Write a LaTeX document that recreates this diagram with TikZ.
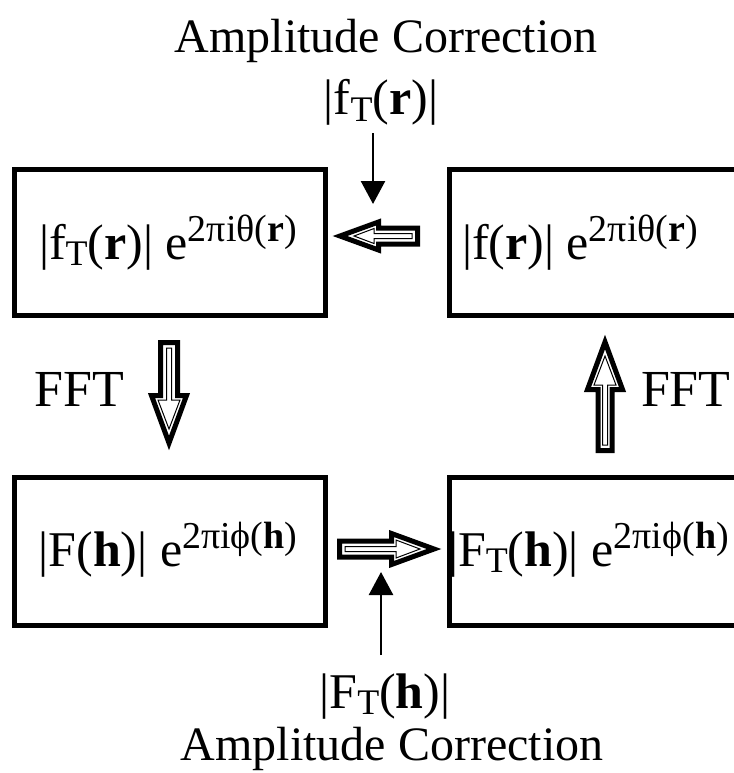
\documentclass[tikz,border=0pt]{standalone}
\usepackage{fontspec}
\setmainfont{Liberation Serif}
\usetikzlibrary{arrows.meta,calc}
\newcommand\bigf{\fontsize{50}{58}\selectfont}
\newcommand\titf{\fontsize{48}{56}\selectfont}
\newcommand\fftf{\fontsize{52}{60}\selectfont}
\newcommand\mysub[1]{\raisebox{-0.13em}{\fontsize{36}{36}\selectfont #1}}
\newcommand\mysup[1]{\raisebox{0.36em}{\fontsize{38}{38}\selectfont #1}}
% tip, angle, L, hl, hh, sh
\newcommand\HArrow[6]{%
\begin{scope}[shift={(#1)},rotate=#2]
 \draw[line width=5pt,line join=miter,fill=white]
   (-7,0) -- (-#4+2.5,#5-2.5) -- (-#4+2.5,#6-2.5) -- (-#3+2.5,#6-2.5)
   -- (-#3+2.5,-#6+2.5) -- (-#4+2.5,-#6+2.5) -- (-#4+2.5,-#5+2.5) -- cycle;
 \draw[line width=1pt,line join=miter]
   (-21,0) -- (-#4+7,#5-9) -- (-#4+7,2.5) -- (-#3+8,2.5)
   -- (-#3+8,-2.5) -- (-#4+7,-2.5) -- (-#4+7,-#5+9) -- cycle;
\end{scope}}
\begin{document}
\begin{tikzpicture}[x=1pt,y=-1pt,
  box/.style={draw,line width=5pt,inner sep=0pt,outer sep=0pt,anchor=north west,minimum width=311pt},
  txt/.style={inner sep=0pt,outer sep=0pt,font=\bigf},
  thinarrow/.style={line width=2.5pt,-{Triangle[length=23pt,width=24pt]}}]
\useasboundingbox (0,0) rectangle (733,773);
% boxes
\node[box,minimum height=146pt] (TL) at (14.5,169.5) {};
\node[box,minimum height=146pt] (TR) at (449.5,169.5) {};
\node[box,minimum height=148pt] (BL) at (14.5,477.5) {};
\node[box,minimum height=148pt] (BR) at (449.5,477.5) {};
% box texts
\node[txt,anchor=base] (tlt) at (168,259) {|f\mysub{T}(\textbf{r})| e\mysup{2πiθ(\textbf{r})}};
\node[txt,anchor=base west] (trt) at (462,259) {|f(\textbf{r})| e\mysup{2πiθ(\textbf{r})}};
\node[txt,anchor=base] (blt) at (168,566) {|F(\textbf{h})| e\mysup{2πiϕ(\textbf{h})}};
\node[txt,anchor=base west] (brt) at (448,566) {|F\mysub{T}(\textbf{h})| e\mysup{2πiϕ(\textbf{h})}};
% titles
\node[txt,font=\titf,anchor=base] (ac1) at (386,53) {Amplitude Correction};
\node[txt,anchor=base] (ft1) at (381,115) {|f\mysub{T}(\textbf{r})|};
\node[txt,anchor=base] (ft2) at (385,708) {|F\mysub{T}(\textbf{h})|};
\node[txt,font=\titf,anchor=base] (ac2) at (392,760) {Amplitude Correction};
\node[txt,font=\fftf,anchor=base east] (fft1) at (124,406) {FFT};
\node[txt,font=\fftf,anchor=base west] (fft2) at (641,406) {FFT};
% thin arrows
\coordinate (s1) at (373,133);
\coordinate (e1) at (373,204);
\coordinate (s2) at (381,655);
\coordinate (e2) at (381,572);
\draw[thinarrow] (s1) -- (e1);
\draw[thinarrow] (s2) -- (e2);
% hollow arrows (tips)
\coordinate (h1) at (333,236);
\coordinate (h2) at (441,549);
\coordinate (h3) at (169,450);
\coordinate (h4) at (605,335);
\HArrow{h1}{180}{87}{48}{16.5}{10.5}
\HArrow{h2}{0}{104}{52}{18}{10.5}
\HArrow{h3}{-90}{110}{57}{20}{11}
\HArrow{h4}{90}{118}{57}{20}{9.5}
\end{tikzpicture}
\end{document}
